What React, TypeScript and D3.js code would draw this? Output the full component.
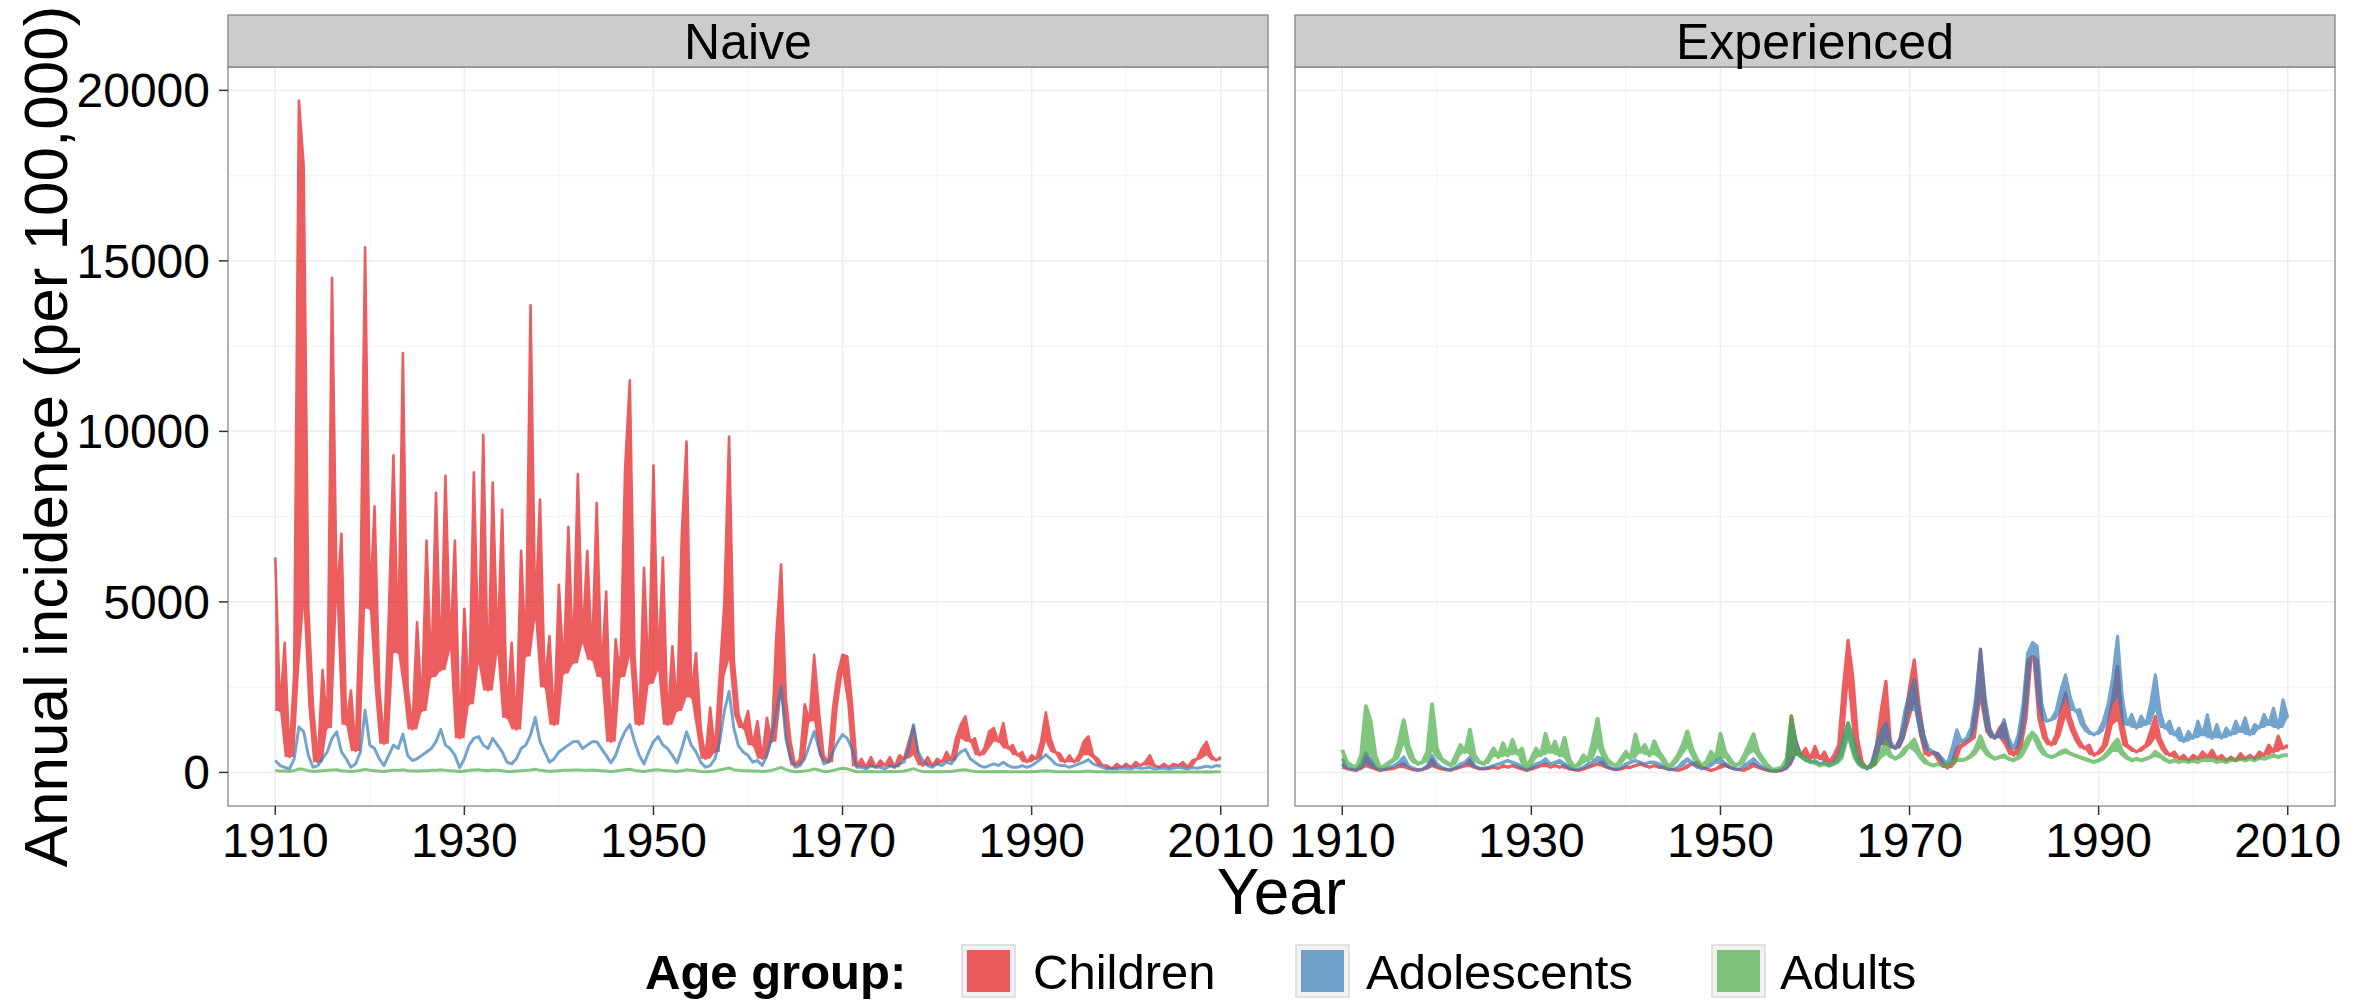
import React from "react";
import * as d3 from "d3";

// ---- data: half-year samples 1910.0 .. 2010.0 (201 points per series) ----
const TIME: number[] = d3.range(0, 201).map((i) => 1910 + i / 2);

const GROUPS = ["Children", "Adolescents", "Adults"];
const PANELS = ["Naive", "Experienced"];
const GROUP_COLORS = ["#E41A1C", "#377EB8", "#4DAF4A"];

const X_TICKS = [1910, 1930, 1950, 1970, 1990, 2010];
const X_MINOR = [1920, 1940, 1960, 1980, 2000];
const Y_TICKS = [0, 5000, 10000, 15000, 20000];
const Y_MINOR = [2500, 7500, 12500, 17500];

const naiveChildren = [
  6300, 1800, 3800, 450, 2900, 19700, 17800, 4800, 1900, 300, 3000, 1300, 14500, 5000, 7000, 1400, 2400, 630, 5000, 15400,
  4800, 7800, 2500, 840, 4500, 9300, 3500, 12300, 2500, 1260, 4400, 1800, 6800, 2800, 8200, 3000, 8700, 3600, 6800, 1000,
  4800, 2000, 8800, 3200, 9900, 2400, 8500, 3500, 7700, 1600, 3800, 1260, 6500, 3400, 13700, 4500, 8000, 2500, 4000, 1400,
  5500, 2900, 7200, 3200, 8750, 3800, 6500, 3300, 7900, 2800, 5300, 900, 3900, 2800, 8900, 11500, 3400, 1400, 6000, 2600,
  9000, 3000, 6300, 1400, 3700, 1800, 7000, 9700, 2200, 3500, 1300, 400, 1900, 600, 2800, 5000, 9850, 3300, 1700, 1300,
  1800, 800, 1500, 400, 1600, 900, 4000, 6100, 2200, 900, 200, 400, 2000, 1500, 3450, 1800, 500, 300, 1900, 2900,
  3450, 3400, 2000, 180, 400, 150, 450, 150, 350, 200, 450, 150, 500, 400, 900, 1350, 500, 200, 450, 200,
  400, 300, 600, 350, 1000, 1400, 1640, 900, 1000, 500, 700, 1200, 1300, 900, 1450, 700, 800, 500, 600, 300,
  500, 400, 900, 1760, 1000, 600, 550, 300, 500, 300, 500, 900, 1060, 500, 400, 200, 200, 100, 250, 150,
  250, 150, 300, 200, 300, 500, 200, 150, 250, 150, 250, 200, 300, 150, 350, 400, 700, 900, 500, 350,
  450,
];

const naiveAdolescents = [
  350, 200, 150, 100, 400, 1330, 1200, 500, 150, 200, 400, 600, 1000, 1190, 600, 400, 150, 250, 600, 1820,
  800, 700, 400, 200, 500, 800, 700, 1120, 500, 350, 400, 500, 600, 700, 900, 1260, 800, 700, 500, 140,
  400, 800, 1000, 1050, 800, 700, 1000, 800, 600, 300, 250, 400, 700, 800, 1100, 1610, 900, 600, 300, 400,
  600, 700, 800, 900, 910, 700, 800, 900, 900, 700, 500, 280, 500, 900, 1200, 1400, 900, 500, 250, 600,
  900, 1050, 800, 700, 500, 280, 700, 1190, 800, 600, 300, 150, 200, 400, 900, 1800, 2380, 1300, 770, 600,
  500, 300, 350, 200, 500, 1000, 1800, 2520, 1000, 400, 150, 200, 400, 800, 1200, 700, 250, 300, 600, 900,
  1110, 1000, 700, 150, 150, 100, 200, 150, 150, 100, 200, 150, 250, 300, 700, 1400, 600, 350, 200, 150,
  250, 200, 300, 250, 450, 600, 670, 400, 300, 200, 150, 200, 250, 200, 300, 200, 150, 150, 200, 150,
  200, 300, 400, 520, 400, 250, 200, 200, 150, 200, 250, 300, 375, 250, 200, 150, 100, 120, 100, 130,
  120, 100, 150, 120, 130, 150, 100, 120, 130, 100, 120, 150, 130, 100, 140, 120, 150, 180, 150, 200,
  180,
];

const naiveAdults = [
  60, 40, 40, 30, 50, 100, 90, 50, 30, 40, 50, 60, 70, 80, 50, 40, 30, 40, 60, 90,
  60, 50, 40, 30, 50, 60, 60, 80, 50, 40, 40, 50, 50, 60, 60, 80, 60, 50, 40, 30,
  40, 60, 70, 80, 60, 50, 70, 60, 50, 30, 30, 40, 50, 60, 70, 90, 60, 50, 30, 40,
  50, 60, 60, 70, 70, 60, 60, 70, 60, 50, 40, 30, 40, 60, 80, 90, 60, 40, 30, 50,
  70, 80, 60, 50, 40, 30, 50, 80, 60, 50, 30, 20, 30, 40, 70, 100, 130, 80, 60, 50,
  50, 40, 40, 30, 40, 60, 100, 150, 80, 40, 20, 30, 40, 60, 100, 70, 30, 30, 60, 90,
  120, 100, 60, 20, 20, 20, 30, 20, 20, 20, 30, 20, 30, 40, 70, 110, 60, 30, 20, 20,
  30, 20, 30, 30, 50, 70, 80, 50, 30, 20, 20, 20, 30, 20, 30, 20, 20, 20, 20, 20,
  20, 30, 40, 50, 40, 20, 20, 20, 20, 20, 20, 30, 40, 30, 20, 20, 10, 10, 10, 10,
  10, 10, 10, 10, 10, 10, 10, 10, 10, 10, 10, 10, 10, 10, 10, 10, 10, 20, 10, 20,
  20,
];

const experiencedChildren = [
  250, 100, 80, 60, 150, 470, 300, 100, 60, 80, 100, 120, 200, 250, 120, 80, 60, 80, 150, 380,
  150, 100, 80, 60, 120, 150, 200, 350, 150, 100, 100, 120, 150, 120, 200, 150, 200, 150, 100, 60,
  100, 150, 200, 250, 150, 200, 150, 200, 100, 80, 60, 100, 150, 200, 250, 300, 150, 100, 80, 100,
  150, 150, 200, 250, 200, 150, 200, 150, 150, 100, 80, 60, 100, 200, 250, 300, 150, 100, 60, 100,
  200, 250, 150, 100, 80, 60, 150, 250, 150, 100, 60, 40, 40, 60, 200, 1660, 900, 500, 700, 400,
  760, 400, 600, 300, 500, 800, 2500, 3870, 2800, 1000, 300, 130, 200, 800, 1800, 2670, 800, 700, 1000, 1500,
  2500, 3300, 2000, 1100, 500, 600, 550, 300, 130, 300, 700, 800, 900, 1000, 2000, 3600, 2000, 1200, 1000, 1300,
  1450, 800, 500, 800, 1600, 3300, 3400, 3300, 1600, 1000, 800, 1100, 1800, 2330, 1600, 1200, 900, 700, 800, 500,
  600, 800, 1400, 2200, 3110, 1500, 800, 700, 600, 700, 800, 1200, 1640, 1000, 700, 500, 600, 400, 500, 350,
  500, 400, 600, 450, 650, 400, 500, 350, 450, 350, 550, 400, 500, 400, 600, 500, 800, 600, 1060, 700,
  800,
];

const experiencedAdolescents = [
  400, 150, 100, 80, 250, 570, 400, 150, 80, 100, 150, 200, 300, 450, 200, 120, 80, 100, 200, 500,
  250, 150, 100, 80, 150, 250, 300, 450, 200, 120, 120, 150, 200, 250, 300, 350, 300, 250, 150, 80,
  150, 250, 300, 400, 250, 300, 350, 250, 150, 80, 100, 150, 250, 300, 450, 400, 200, 120, 100, 150,
  250, 300, 350, 300, 250, 300, 300, 250, 150, 80, 100, 150, 300, 400, 300, 200, 100, 150, 250, 350,
  400, 250, 150, 100, 100, 200, 300, 400, 250, 150, 80, 40, 50, 80, 250, 1400, 900, 500, 400, 300,
  350, 250, 300, 200, 300, 500, 1000, 1450, 1000, 500, 200, 100, 300, 800, 1200, 1450, 900, 700, 1000, 1800,
  2300, 2720, 1800, 1100, 700, 600, 550, 400, 250, 700, 1250, 900, 1000, 1300, 2200, 3620, 2200, 1300, 1000, 1200,
  1550, 1000, 700, 1100, 2000, 3500, 3810, 3700, 2000, 1500, 1550, 1800, 2400, 2860, 2200, 1800, 1840, 1400, 1200, 1100,
  1200, 1500, 2000, 2800, 3990, 2200, 1400, 1700, 1300, 1650, 1400, 2000, 2860, 1800, 1300, 1500, 1100, 1300, 900, 1200,
  1000, 1500, 1100, 1690, 1000, 1400, 1000, 1300, 1100, 1500, 1200, 1600, 1100, 1400, 1300, 1700, 1400, 1880, 1300, 2130,
  1600,
];

const experiencedAdults = [
  660, 300, 200, 150, 500, 1940, 1500, 500, 130, 200, 300, 400, 900, 1530, 800, 400, 250, 300, 600, 2000,
  700, 400, 300, 200, 500, 800, 600, 1250, 500, 300, 250, 450, 700, 450, 850, 500, 950, 550, 700, 150,
  400, 700, 500, 1130, 600, 900, 500, 1010, 400, 150, 250, 500, 350, 900, 1570, 700, 400, 250, 200, 400,
  600, 400, 1110, 600, 800, 500, 910, 600, 400, 150, 300, 500, 800, 1200, 700, 400, 200, 300, 600, 400,
  1130, 600, 400, 200, 250, 500, 800, 1120, 600, 400, 200, 80, 100, 150, 400, 1640, 700, 500, 400, 300,
  300, 200, 250, 200, 250, 400, 900, 1450, 900, 400, 200, 130, 200, 400, 600, 900, 500, 400, 500, 700,
  800, 960, 600, 400, 250, 200, 250, 200, 200, 300, 400, 350, 400, 500, 700, 1060, 700, 500, 400, 450,
  500, 400, 350, 450, 700, 1000, 1170, 1000, 700, 500, 450, 500, 600, 650, 550, 500, 450, 400, 350, 300,
  350, 450, 600, 800, 960, 600, 450, 350, 400, 350, 400, 450, 600, 500, 400, 300, 350, 300, 350, 300,
  350, 300, 400, 350, 400, 300, 350, 300, 400, 350, 400, 350, 400, 350, 450, 400, 450, 500, 450, 500,
  500,
];

// series per panel, in drawing order (Children, Adolescents, Adults)
const PANEL_SERIES: number[][][] = [
  [naiveChildren, naiveAdolescents, naiveAdults],
  [experiencedChildren, experiencedAdolescents, experiencedAdults],
];

// which series get the filled seasonal band, and their outline widths
const PANEL_BANDED = [
  [true, false, false],
  [true, true, true],
];
const PANEL_WIDTHS = [
  [2.6, 3, 3],
  [3.2, 3.2, 4],
];

// ---- layout ----
const W = 2374;
const H = 1002;
const PANEL_LEFT = [228, 1295];
const PANEL_W = 1040;
const STRIP_TOP = 15;
const PANEL_TOP = 67;
const PANEL_BOTTOM = 806;
const FONT = "'Liberation Sans', Arial, Helvetica, sans-serif";

const yScale = d3.scaleLinear().domain([-985, 20685]).range([PANEL_BOTTOM, PANEL_TOP]);

function Panel({ index }: { index: number }) {
  const x0 = PANEL_LEFT[index];
  const x = d3.scaleLinear().domain([1905, 2015]).range([x0, x0 + PANEL_W]);
  // seasonal band: from the local trough up to each sampled value
  const band = d3
    .area<number>()
    .x((_, i) => x(TIME[i]))
    .y1((v) => yScale(v))
    .y0((v, i, arr) => yScale(Math.min(arr[i - 1] ?? v, v, arr[i + 1] ?? v)));
  const line = d3
    .line<number>()
    .x((_, i) => x(TIME[i]))
    .y((v) => yScale(v));
  const clipId = `clip-${index}`;
  return (
    <g>
      <defs>
        <clipPath id={clipId}>
          <rect x={x0} y={PANEL_TOP} width={PANEL_W} height={PANEL_BOTTOM - PANEL_TOP} />
        </clipPath>
      </defs>
      <rect x={x0} y={PANEL_TOP} width={PANEL_W} height={PANEL_BOTTOM - PANEL_TOP} fill="#FFFFFF" />
      {X_MINOR.map((t) => (
        <line key={"xm" + t} x1={x(t)} x2={x(t)} y1={PANEL_TOP} y2={PANEL_BOTTOM} stroke="#F5F5F5" strokeWidth={1.2} />
      ))}
      {Y_MINOR.map((v) => (
        <line key={"ym" + v} x1={x0} x2={x0 + PANEL_W} y1={yScale(v)} y2={yScale(v)} stroke="#F5F5F5" strokeWidth={1.2} />
      ))}
      {X_TICKS.map((t) => (
        <line key={"xg" + t} x1={x(t)} x2={x(t)} y1={PANEL_TOP} y2={PANEL_BOTTOM} stroke="#EEEEEE" strokeWidth={1.6} />
      ))}
      {Y_TICKS.map((v) => (
        <line key={"yg" + v} x1={x0} x2={x0 + PANEL_W} y1={yScale(v)} y2={yScale(v)} stroke="#EEEEEE" strokeWidth={1.6} />
      ))}
      <g clipPath={`url(#${clipId})`}>
        {PANEL_SERIES[index].map((vals, g) => (
          <g key={GROUPS[g]} opacity={0.7}>
            {PANEL_BANDED[index][g] && <path d={band(vals) || ""} fill={GROUP_COLORS[g]} stroke="none" />}
            <path
              d={line(vals) || ""}
              fill="none"
              stroke={GROUP_COLORS[g]}
              strokeWidth={PANEL_WIDTHS[index][g]}
              strokeLinejoin="round"
            />
          </g>
        ))}
      </g>
      <rect
        x={x0}
        y={PANEL_TOP}
        width={PANEL_W}
        height={PANEL_BOTTOM - PANEL_TOP}
        fill="none"
        stroke="#7F7F7F"
        strokeWidth={1.2}
      />
      {/* strip */}
      <rect x={x0} y={STRIP_TOP} width={PANEL_W} height={PANEL_TOP - STRIP_TOP} fill="#CCCCCC" stroke="#7F7F7F" strokeWidth={1.2} />
      <text x={x0 + PANEL_W / 2} y={58.5} textAnchor="middle" fontSize={50} fill="#000">
        {PANELS[index]}
      </text>
      {/* x axis */}
      {X_TICKS.map((t) => (
        <g key={"xt" + t}>
          <line x1={x(t)} x2={x(t)} y1={PANEL_BOTTOM} y2={PANEL_BOTTOM + 9} stroke="#333333" strokeWidth={1.5} />
          <text x={x(t)} y={857} textAnchor="middle" fontSize={48} fill="#000">
            {t}
          </text>
        </g>
      ))}
    </g>
  );
}

const LEGEND_ITEMS = [
  { key: 962, text: 1033 },
  { key: 1296, text: 1366 },
  { key: 1712, text: 1780 },
];

export default function App() {
  React.useEffect(() => {
    document.body.style.margin = "0";
    document.body.style.overflow = "hidden";
  }, []);
  return (
    <svg
      width={W}
      height={H}
      viewBox={`0 0 ${W} ${H}`}
      style={{ position: "fixed", left: 0, top: 0, background: "#FFFFFF" }}
      fontFamily={FONT}
    >
      <rect x={0} y={0} width={W} height={H} fill="#FFFFFF" />
      <Panel index={0} />
      <Panel index={1} />
      {/* y axis on the left panel */}
      {Y_TICKS.map((v) => (
        <g key={"yt" + v}>
          <line x1={219} x2={228} y1={yScale(v)} y2={yScale(v)} stroke="#333333" strokeWidth={1.5} />
          <text x={210} y={yScale(v) + 17} textAnchor="end" fontSize={48} fill="#000">
            {v}
          </text>
        </g>
      ))}
      <text
        transform={`translate(67, ${(PANEL_TOP + PANEL_BOTTOM) / 2}) rotate(-90)`}
        textAnchor="middle"
        fontSize={62}
        fill="#000"
      >
        Annual incidence (per 100,000)
      </text>
      <text x={(PANEL_LEFT[0] + PANEL_LEFT[1] + PANEL_W) / 2} y={914} textAnchor="middle" fontSize={64} fill="#000">
        Year
      </text>
      {/* legend */}
      <text x={645} y={989} fontSize={49} fontWeight="bold" fill="#000">
        Age group:
      </text>
      {GROUPS.map((g, i) => (
        <g key={"lg" + g}>
          <rect x={LEGEND_ITEMS[i].key} y={945} width={53} height={52} fill="#F2F2F2" stroke="#D9D9D9" strokeWidth={1.5} />
          <rect
            x={LEGEND_ITEMS[i].key + 5}
            y={950}
            width={43}
            height={42}
            fill={GROUP_COLORS[i]}
            fillOpacity={0.7}
          />
          <text x={LEGEND_ITEMS[i].text} y={989} fontSize={49} fill="#000">
            {g}
          </text>
        </g>
      ))}
    </svg>
  );
}
